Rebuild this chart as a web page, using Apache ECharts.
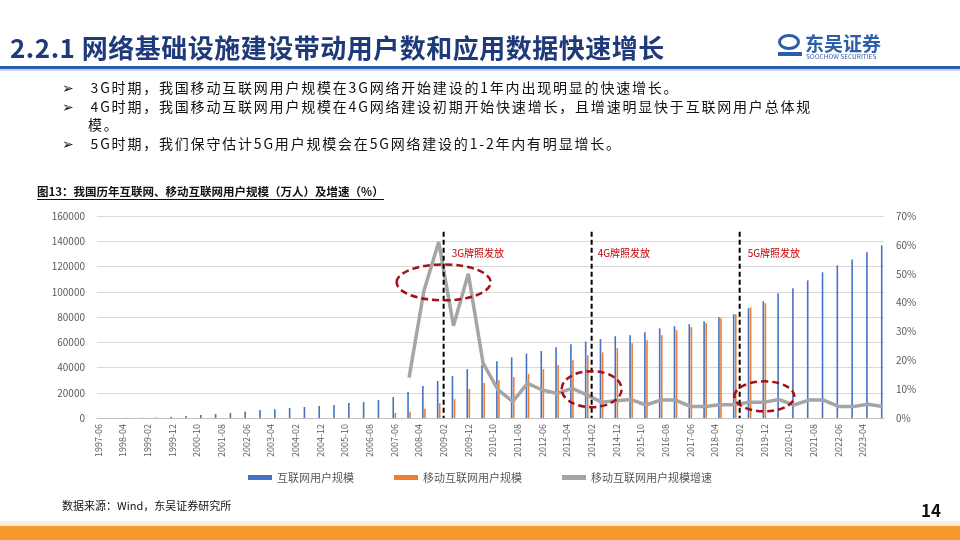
<!DOCTYPE html>
<html><head><meta charset="utf-8">
<script src="https://cdn.jsdelivr.net/npm/echarts@6/dist/echarts.min.js"></script>
<style>
body{margin:0;width:960px;height:540px;overflow:hidden;background:#fff;font-family:"Noto Sans CJK SC","Noto Sans",sans-serif;position:relative}
.abs{position:absolute;white-space:nowrap}
#chart{position:absolute;left:0;top:0;width:960px;height:540px}
</style></head><body>
<div id="chart"></div>
<div class="abs" style="left:10px;top:28px;font-size:26px;font-weight:bold;color:#1F3A7A;letter-spacing:0.5px">2.2.1 网络基础设施建设带动用户数和应用数据快速增长</div>
<div class="abs" style="left:0;top:66px;width:960px;height:3px;background:#2E5EA8"></div>
<div class="abs" style="left:0;top:69px;width:960px;height:2px;background:#C9D8EE"></div>
<div class="abs" style="left:778px;top:34px;width:22px;height:16px;border-radius:50%;border:3px solid #2E5EA8;box-sizing:border-box"></div>
<div class="abs" style="left:778px;top:52px;width:24px;height:4px;background:#2E5EA8"></div>
<div class="abs" style="left:805px;top:29px;font-size:19px;font-weight:bold;color:#2E5EA8">东吴证券</div>
<div class="abs" style="left:806px;top:51px;font-size:6.5px;color:#2E5EA8">SOOCHOW SECURITIES</div>
<div class="abs" style="left:62px;top:78px;font-size:14px;line-height:18.5px;color:#111;letter-spacing:1.8px">
<div>➢&nbsp;&nbsp;&nbsp;3G时期，我国移动互联网用户规模在3G网络开始建设的1年内出现明显的快速增长。</div>
<div>➢&nbsp;&nbsp;&nbsp;4G时期，我国移动互联网用户规模在4G网络建设初期开始快速增长，且增速明显快于互联网用户总体规</div>
<div style="padding-left:26px">模。</div>
<div>➢&nbsp;&nbsp;&nbsp;5G时期，我们保守估计5G用户规模会在5G网络建设的1-2年内有明显增长。</div>
</div>
<div class="abs" style="left:37px;top:183px;font-size:11.5px;font-weight:bold;color:#111;border-bottom:1px solid #111">图13：我国历年互联网、移动互联网用户规模（万人）及增速（%）</div>
<div class="abs" style="left:62px;top:497px;font-size:11px;color:#111">数据来源：Wind，东吴证券研究所</div>
<div class="abs" style="left:921px;top:500px;font-size:17px;font-weight:bold;color:#111;line-height:20px">14</div>
<div class="abs" style="left:0;top:521px;width:960px;height:5px;background:#FCEBD8"></div>
<div class="abs" style="left:0;top:526px;width:960px;height:14px;background:#F7992F"></div>
<script>
const periods = [];
for (let y = 1997; y <= 2023; y++) { if (y > 1997) periods.push(y + '-06'); periods.push(y + '-12'); }
const internetUsers = [62,117,210,400,890,1500,2300,3200,4000,5000,6300,7000,8000,8700,9500,10300,11800,12600,14200,16600,20600,25300,29300,33200,38700,42000,45000,48000,51000,53000,56000,58500,60500,62500,64800,65600,68000,71000,72700,74300,76700,79800,82200,86900,92500,98800,102700,109000,115400,120900,125600,131200,136700];
const mobileUsers = [null,null,null,null,null,null,null,null,null,null,null,null,null,null,null,null,null,null,null,4000,5000,7300,11760,15000,23000,27700,30000,32400,34800,38700,41900,45800,49800,52000,55300,59300,61600,65600,69600,71900,75100,79000,82200,87700,90900,null,null,null,null,null,null,null,null];
const mobileGrowth = [null,null,null,null,null,null,null,null,null,null,null,null,null,null,null,null,null,null,null,null,14,44,61,32,50,19,9.8,5.7,12,9.7,8.5,10.3,8,5.5,6,6.4,4.5,6.2,6.2,4,4,4.6,4.6,5.5,5.5,6.4,4.5,6.2,6.2,4,4,4.8,4];
const leftTicks = [0,20000,40000,60000,80000,100000,120000,140000,160000];
const licenseMonths = ['2009-02','2014-02','2019-02'];
const licenseLabels = ['3G牌照发放','4G牌照发放','5G牌照发放'];
const circleCenters = [['2009-02',47],['2014-02',10],['2019-12',7.5]];

const months = [];
for (let y = 1997; y <= 2023; y++) for (let m = 1; m <= 12; m++) {
  if (y === 1997 && m < 6) continue;
  months.push(y + '-' + String(m).padStart(2,'0'));
}
function toMonthly(arr){ const o = months.map(()=>null); periods.forEach((p,i)=>{ o[months.indexOf(p)] = arr[i]; }); return o; }

const chart = echarts.init(document.getElementById('chart'));
const ff = '"Noto Sans CJK SC","Noto Sans",sans-serif';
chart.setOption({
  animation:false,
  textStyle:{fontFamily:ff},
  grid:{left:97,right:76,top:216,bottom:122},
  legend:{bottom:52,left:'center',itemGap:40,itemWidth:24,itemHeight:5,textStyle:{fontSize:11,color:'#595959'},
    data:[{name:'互联网用户规模',icon:'rect'},{name:'移动互联网用户规模',icon:'rect'},{name:'移动互联网用户规模增速',icon:'rect'}]},
  xAxis:{type:'category',data:months,boundaryGap:true,
    axisLine:{lineStyle:{color:'#BFBFBF'}},axisTick:{show:false},
    axisLabel:{interval:9,rotate:90,fontSize:9,color:'#595959',margin:6}},
  yAxis:[
    {type:'value',min:0,max:160000,interval:20000,axisLine:{show:false},axisTick:{show:false},
     axisLabel:{fontSize:10,color:'#595959',margin:12,formatter:v=>String(v)},splitLine:{lineStyle:{color:'#D9D9D9'}}},
    {type:'value',min:0,max:70,interval:10,axisLine:{show:false},axisTick:{show:false},
     axisLabel:{fontSize:10,color:'#595959',formatter:'{value}%',margin:12},splitLine:{show:false}}
  ],
  series:[
    {name:'互联网用户规模',type:'bar',data:toMonthly(internetUsers),barWidth:1.6,barGap:'30%',itemStyle:{color:'#4472C4'}},
    {name:'移动互联网用户规模',type:'bar',data:toMonthly(mobileUsers),barWidth:1.6,itemStyle:{color:'#ED7D31'}},
    {name:'移动互联网用户规模增速',type:'line',yAxisIndex:1,data:toMonthly(mobileGrowth),connectNulls:true,
     symbol:'none',lineStyle:{color:'#A5A5A5',width:3.5},itemStyle:{color:'#A5A5A5'}}
  ]
});
const g = [];
licenseMonths.forEach((m,i)=>{
  const top = chart.convertToPixel({xAxisIndex:0,yAxisIndex:1},[m,64.5]);
  const bot = chart.convertToPixel({xAxisIndex:0,yAxisIndex:1},[m,0]);
  g.push({type:'line',shape:{x1:top[0],y1:top[1],x2:bot[0],y2:bot[1]},style:{stroke:'#000',lineWidth:2,lineDash:[5,3]},z:10});
  g.push({type:'text',x:top[0]+8+(i===1?-2:0),y:top[1]+16,style:{text:licenseLabels[i],fill:'#C00000',font:'10px '+ff},z:10});
});
const sizes = [[47,18],[30,18],[30,15]];
circleCenters.forEach((c,i)=>{
  const p = chart.convertToPixel({xAxisIndex:0,yAxisIndex:1},c);
  g.push({type:'ellipse',shape:{cx:p[0],cy:p[1],rx:sizes[i][0],ry:sizes[i][1]},style:{fill:'none',stroke:'#A50F15',lineWidth:2.5,lineDash:[7,4]},z:11});
});
chart.setOption({graphic:g});
</script>
</body></html>
